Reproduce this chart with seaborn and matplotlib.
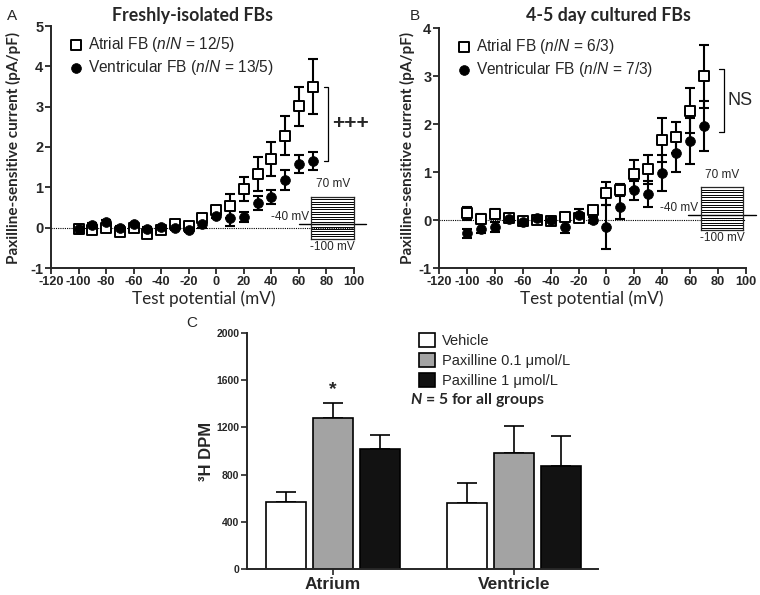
import numpy as np
import pandas as pd
import seaborn as sns
import matplotlib.pyplot as plt

# ---------------- data ----------------
voltages = [-100, -90, -80, -70, -60, -50, -40, -30, -20, -10, 0, 10, 20, 30, 40, 50, 60, 70]

a_atrial = [-0.03, -0.06, -0.01, -0.10, -0.02, -0.15, -0.05, 0.09, 0.05, 0.23, 0.44, 0.54, 0.96, 1.33, 1.70, 2.28, 3.01, 3.50]
a_atrial_sem = [0.05, 0.05, 0.05, 0.05, 0.05, 0.05, 0.04, 0.05, 0.05, 0.10, 0.08, 0.29, 0.29, 0.42, 0.42, 0.48, 0.48, 0.68]
a_vent = [-0.03, 0.07, 0.14, -0.01, 0.08, -0.03, 0.01, -0.01, -0.06, 0.10, 0.30, 0.24, 0.27, 0.62, 0.76, 1.18, 1.57, 1.65]
a_vent_sem = [0.03, 0.04, 0.04, 0.04, 0.04, 0.04, 0.04, 0.04, 0.04, 0.12, 0.05, 0.20, 0.13, 0.17, 0.17, 0.25, 0.22, 0.22]

b_atrial = [0.14, 0.03, 0.12, 0.05, -0.03, 0.00, -0.02, 0.06, 0.05, 0.20, 0.56, 0.63, 0.95, 1.06, 1.66, 1.72, 2.28, 2.99]
b_atrial_sem = [0.13, 0.10, 0.10, 0.04, 0.04, 0.04, 0.04, 0.05, 0.05, 0.08, 0.24, 0.12, 0.30, 0.30, 0.46, 0.32, 0.46, 0.66]
b_vent = [-0.28, -0.18, -0.14, 0.02, -0.05, 0.05, 0.01, -0.14, 0.10, 0.00, -0.14, 0.28, 0.62, 0.54, 0.98, 1.40, 1.65, 1.96]
b_vent_sem = [0.09, 0.10, 0.10, 0.04, 0.04, 0.04, 0.04, 0.14, 0.12, 0.07, 0.46, 0.26, 0.20, 0.27, 0.38, 0.40, 0.48, 0.52]

x_ticks = [-120, -100, -80, -60, -40, -20, 0, 20, 40, 60, 80, 100]
a_y_ticks = [-1, 0, 1, 2, 3, 4, 5]
b_y_ticks = [-1, 0, 1, 2, 3, 4]

regions = ['Atrium', 'Ventricle']
treatments = ['Vehicle', 'Paxilline 0.1 \u03bcmol/L', 'Paxilline 1 \u03bcmol/L']
dpm_vehicle = [565, 560]
dpm_pax01 = [1280, 980]
dpm_pax1 = [1020, 875]
sem_vehicle = [90, 165]
sem_pax01 = [130, 235]
sem_pax1 = [115, 255]
c_y_ticks = [0, 400, 800, 1200, 1600, 2000]

# ---------------- style ----------------
sns.set_theme(style='ticks')
plt.rcParams['font.family'] = ['Liberation Sans', 'DejaVu Sans']
plt.rcParams['mathtext.fontset'] = 'custom'
plt.rcParams['mathtext.rm'] = 'Liberation Sans'
plt.rcParams['mathtext.it'] = 'Liberation Sans:italic'
plt.rcParams['mathtext.bf'] = 'Liberation Sans:bold'
plt.rcParams['mathtext.bfit'] = 'Lato:italic:bold'
plt.rcParams['axes.linewidth'] = 1.4
HUM = ['Lato', 'DejaVu Sans']

W, H = 760, 595
fig = plt.figure(figsize=(W / 100, H / 100), dpi=100)


def px_axes(l, t, r, b):
    return fig.add_axes([l / W, 1 - b / H, (r - l) / W, (b - t) / H])


def ftext(x, y, s, **kw):
    return fig.text(x / W, 1 - y / H, s, **kw)


def iv_panel(ax, atr, atr_sem, ven, ven_sem, yticks, n_atr, n_ven, box, brk, sig, sigsize, sigw):
    ax.axhline(0, ls=(0, (1, 1)), lw=0.8, color='black', zorder=1)
    ax.errorbar(voltages, atr, yerr=atr_sem, fmt='none', ecolor='black',
                elinewidth=1.5, capsize=3.5, capthick=1.5, zorder=2)
    ax.errorbar(voltages, ven, yerr=ven_sem, fmt='none', ecolor='black',
                elinewidth=1.5, capsize=3.5, capthick=1.5, zorder=2)
    sns.scatterplot(x=voltages, y=atr, ax=ax, marker='s', s=46, facecolor='white',
                    edgecolor='black', linewidth=1.4, zorder=3,
                    label=r'Atrial FB ($n/N$ = %s)' % n_atr)
    sns.scatterplot(x=voltages, y=ven, ax=ax, marker='o', s=50, color='black',
                    edgecolor='black', linewidth=0.5, zorder=4,
                    label=r'Ventricular FB ($n/N$ = %s)' % n_ven)
    ax.set_xlim(x_ticks[0], x_ticks[-1])
    ax.set_ylim(yticks[0], yticks[-1])
    ax.set_xticks(x_ticks)
    ax.set_xticklabels([str(t) for t in x_ticks], fontweight='bold', fontsize=9.2)
    ax.set_yticks(yticks)
    ax.set_yticklabels([str(t) for t in yticks], fontweight='bold', fontsize=10.5)
    ax.tick_params(direction='out', length=4, width=1.3, pad=1.5)
    sns.despine(ax=ax)
    ax.set_xlabel('')
    ax.set_ylabel('')
    ax.legend(loc='upper left', bbox_to_anchor=(0.025, 1.0), frameon=False,
              fontsize=11.2, handletextpad=0.3, borderpad=0.1,
              labelspacing=0.25, handlelength=1.0)
    # significance bracket
    bx, by0, by1 = brk
    ax.plot([bx - 3, bx, bx, bx - 3], [by0, by0, by1, by1], color='black', lw=0.9,
            clip_on=False)
    ax.text(bx + 3, (by0 + by1) / 2, sig, fontsize=sigsize, fontweight=sigw,
            ha='left', va='center', clip_on=False)
    # voltage protocol inset
    ins = ax.inset_axes(box, transform=ax.transData)
    ins.set_facecolor('none')
    ins.hlines(voltages, 0, 1, color='black', lw=0.7)
    ins.set_xlim(0, 1)
    ins.set_ylim(voltages[0], voltages[-1])
    ins.plot([-0.29, 1.29], [-40, -40], color='black', lw=1.0, clip_on=False)
    for s in ins.spines.values():
        s.set_linewidth(0.9)
    ins.set_xticks([])
    ins.set_yticks([])
    ins.text(0.5, voltages[-1] + 25, '70 mV', ha='center', va='bottom', fontsize=8.5)
    ins.text(-0.06, -40 + 5, '-40 mV', ha='right', va='bottom', fontsize=8.5)
    ins.text(0.5, voltages[0] - 8, '-100 mV', ha='center', va='top', fontsize=8.5)


# ---------------- panel A ----------------
axA = px_axes(51, 26, 354, 268)
iv_panel(axA, a_atrial, a_atrial_sem, a_vent, a_vent_sem, a_y_ticks, '12/5', '13/5',
         [69, -0.28, 31, 1.05], (81, a_atrial[-1], a_vent[-1]), '+++', 15, 'bold')
ftext(7, 16, 'A', fontsize=11, va='center', ha='left')
ftext(193, 15, 'Freshly-isolated FBs', fontsize=12.8, fontweight='bold', family=HUM,
      ha='center', va='center')
ftext(13, 148, 'Paxilline-sensitive current (pA/pF)', fontsize=11, fontweight='bold',
      family=HUM, rotation=90, ha='center', va='center')
ftext(204, 299, 'Test potential (mV)', fontsize=12.3, family=HUM, ha='center', va='center')

# ---------------- panel B ----------------
axB = px_axes(439, 28, 746, 268)
iv_panel(axB, b_atrial, b_atrial_sem, b_vent, b_vent_sem, b_y_ticks, '6/3', '7/3',
         [67.6, -0.21, 30.4, 0.89], (84, b_atrial[-1] + 0.15, b_vent[-1] - 0.13), 'NS', 13, 'normal')
ftext(410, 16, 'B', fontsize=11, va='center', ha='left')
ftext(608, 15, '4-5 day cultured FBs', fontsize=12.8, fontweight='bold', family=HUM,
      ha='center', va='center')
ftext(407, 148, 'Paxilline-sensitive current (pA/pF)', fontsize=11, fontweight='bold',
      family=HUM, rotation=90, ha='center', va='center')
ftext(592, 299, 'Test potential (mV)', fontsize=12.3, family=HUM, ha='center', va='center')

# ---------------- panel C ----------------
axC = px_axes(247, 333, 598, 569)
df = pd.DataFrame({
    'region': regions * 3,
    'treatment': [treatments[0]] * 2 + [treatments[1]] * 2 + [treatments[2]] * 2,
    'dpm': dpm_vehicle + dpm_pax01 + dpm_pax1,
})
sems = [sem_vehicle, sem_pax01, sem_pax1]
sns.barplot(data=df, x='region', y='dpm', hue='treatment', hue_order=treatments,
            order=regions, palette=['white', '#a3a3a3', '#121212'], edgecolor='black',
            linewidth=1.2, width=0.78, gap=0.14, errorbar=None, ax=axC, zorder=2)
for cont, sem in zip(axC.containers, sems):
    xs = [p.get_x() + p.get_width() / 2 for p in cont]
    hs = [p.get_height() for p in cont]
    axC.errorbar(xs, hs, yerr=[[0] * len(sem), sem], fmt='none', ecolor='black',
                 elinewidth=1.2, capsize=7, capthick=1.2, zorder=1)
axC.set_xlim(-0.475, 1.464)
axC.set_ylim(0, 2000)
axC.set_yticks(c_y_ticks)
axC.set_yticklabels([str(t) for t in c_y_ticks], fontweight='bold', fontsize=7.5)
axC.set_xticks([0, 1])
axC.set_xticklabels(regions, fontweight='bold', fontsize=12.5)
axC.tick_params(direction='out', length=4, width=1.2, pad=1.5)
axC.set_xlabel('')
axC.set_ylabel('\u00b3H DPM', fontsize=12, fontweight='bold', labelpad=2)
sns.despine(ax=axC)
# star above atrium paxilline 0.1
p_star = axC.containers[1][0]
axC.text(p_star.get_x() + p_star.get_width() / 2, p_star.get_height() + sem_pax01[0] + 40,
         '*', ha='center', va='bottom', fontsize=14, fontweight='bold')
axC.legend(loc='upper left', bbox_to_anchor=(0.465, 1.035), frameon=False, fontsize=10.5,
           handlelength=1.1, handleheight=1.1, handletextpad=0.5, labelspacing=0.32,
           borderpad=0.1, title=None)
ftext(410, 400, r'$\mathbfit{N}$ = 5 for all groups', fontsize=11.3, fontweight='bold',
      family=HUM, ha='left', va='center')
ftext(186, 323, 'C', fontsize=11, va='center', ha='left')

fig.savefig('out.png', dpi=100)
